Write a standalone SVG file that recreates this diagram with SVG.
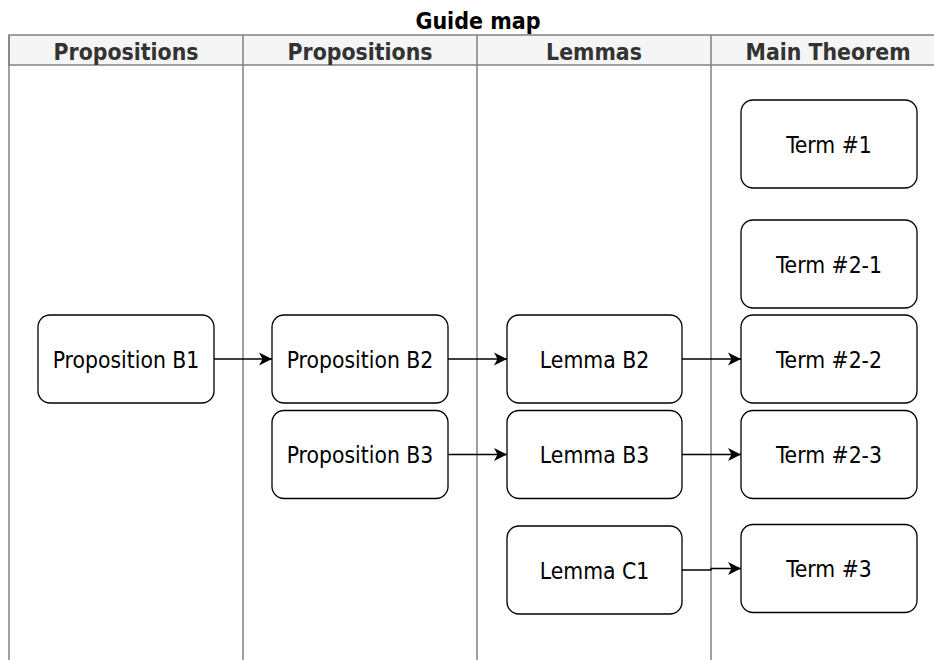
<svg xmlns="http://www.w3.org/2000/svg" width="934" height="660" viewBox="0 0 934 660">
<style>
.lane{fill:none;stroke:#808080;stroke-width:1.5}
.hdr{fill:#f5f5f5;stroke:#808080;stroke-width:1.5}
.ht{font-family:"DejaVu Sans Condensed","DejaVu Sans",sans-serif;font-weight:bold;font-size:22.8px;fill:#333333;text-anchor:middle}
.title{font-family:"DejaVu Sans Condensed","DejaVu Sans",sans-serif;font-weight:bold;font-size:23px;fill:#000000;text-anchor:middle}
.box{fill:#ffffff;stroke:#000000;stroke-width:1.3}
.t{font-family:"DejaVu Sans Condensed","DejaVu Sans",sans-serif;font-size:22.7px;fill:#000000;text-anchor:middle}
.edge{fill:none;stroke:#000000;stroke-width:1.3}
</style>
<defs>
<marker id="arr" viewBox="0 0 13 14" refX="13" refY="7" markerWidth="13" markerHeight="14" markerUnits="userSpaceOnUse" orient="auto">
<path d="M13,7 L0,0.5 L3.5,7 L0,13.5 Z" fill="#000000"/>
</marker>
</defs>
<text class="title" x="478" y="29">Guide map</text>
<g id="pool">
<rect class="hdr" x="9" y="35" width="936" height="30"/>
<line class="lane" x1="9" y1="35" x2="9" y2="670"/>
<line class="lane" x1="243" y1="35" x2="243" y2="670"/>
<line class="lane" x1="477" y1="35" x2="477" y2="670"/>
<line class="lane" x1="711" y1="35" x2="711" y2="670"/>
<text class="ht" x="126" y="59.5">Propositions</text>
<text class="ht" x="360" y="59.5">Propositions</text>
<text class="ht" x="594" y="59.5">Lemmas</text>
<text class="ht" x="828" y="59.5">Main Theorem</text>
</g>
<g id="connectors">
<line class="edge" x1="214" y1="359" x2="272" y2="359" marker-end="url(#arr)"/>
<line class="edge" x1="448" y1="359" x2="507" y2="359" marker-end="url(#arr)"/>
<line class="edge" x1="682" y1="359" x2="741" y2="359" marker-end="url(#arr)"/>
<line class="edge" x1="448" y1="454.5" x2="507" y2="454.5" marker-end="url(#arr)"/>
<line class="edge" x1="682" y1="454.5" x2="741" y2="454.5" marker-end="url(#arr)"/>
<polyline class="edge" points="682,570 711,570 711,568.5 741,568.5" marker-end="url(#arr)"/>
</g>
<g id="prop-b1"><rect class="box" x="38" y="315" width="176" height="88" rx="12"/><text class="t" x="126" y="367.5">Proposition B1</text></g>
<g id="prop-b2"><rect class="box" x="272" y="315" width="176" height="88" rx="12"/><text class="t" x="360" y="367.5">Proposition B2</text></g>
<g id="prop-b3"><rect class="box" x="272" y="410.5" width="176" height="88" rx="12"/><text class="t" x="360" y="463">Proposition B3</text></g>
<g id="lemma-b2"><rect class="box" x="507" y="315" width="175" height="88" rx="12"/><text class="t" x="594.5" y="367.5">Lemma B2</text></g>
<g id="lemma-b3"><rect class="box" x="507" y="410.5" width="175" height="88" rx="12"/><text class="t" x="594.5" y="463">Lemma B3</text></g>
<g id="lemma-c1"><rect class="box" x="507" y="526" width="175" height="88" rx="12"/><text class="t" x="594.5" y="578.5">Lemma C1</text></g>
<g id="term-1"><rect class="box" x="741" y="100" width="176" height="88" rx="12"/><text class="t" x="829" y="152.5">Term #1</text></g>
<g id="term-2-1"><rect class="box" x="741" y="220" width="176" height="88" rx="12"/><text class="t" x="829" y="272.5">Term #2-1</text></g>
<g id="term-2-2"><rect class="box" x="741" y="315" width="176" height="88" rx="12"/><text class="t" x="829" y="367.5">Term #2-2</text></g>
<g id="term-2-3"><rect class="box" x="741" y="410.5" width="176" height="88" rx="12"/><text class="t" x="829" y="463">Term #2-3</text></g>
<g id="term-3"><rect class="box" x="741" y="524.5" width="176" height="88" rx="12"/><text class="t" x="829" y="577">Term #3</text></g>
</svg>
